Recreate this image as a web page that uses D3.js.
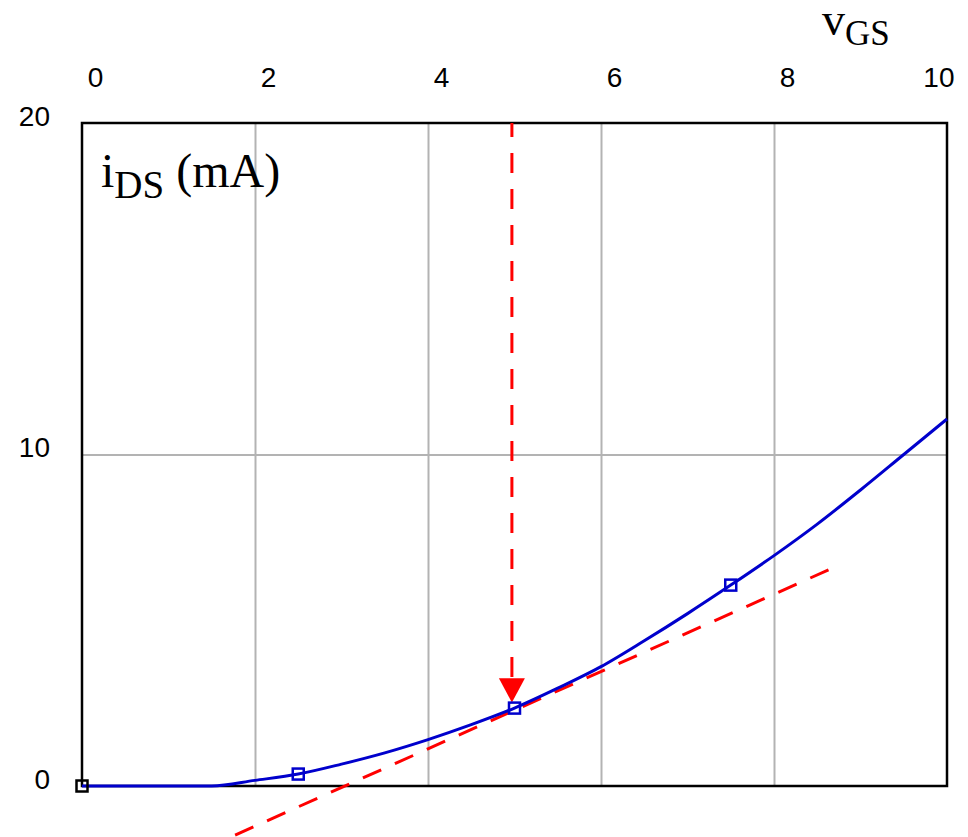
<!DOCTYPE html>
<html>
<head>
<meta charset="utf-8">
<script src="https://cdn.jsdelivr.net/npm/d3@7/dist/d3.min.js"></script>
<style>
  html, body { margin: 0; padding: 0; background: #fff; }
  svg { display: block; }
  .tick-lbl { font-family: "Liberation Sans", Arial, sans-serif; font-size: 28px; fill: #000; }
  .serif { font-family: "Liberation Serif", "Times New Roman", serif; fill: #000; }
</style>
</head>
<body>
<svg id="chart" width="968" height="837"></svg>
<script>
/* iDS vs vGS transfer curve with tangent at the bias point */

const X_TICKS = [0, 2, 4, 6, 8, 10];
const Y_TICKS = [0, 10, 20];

// transfer curve
const VGS = [0, 1.5, 2, 2.5, 3, 3.5, 4, 4.5, 5, 5.5, 6, 6.5, 7, 7.5, 8, 8.5, 9, 9.5, 10];
const IDS = [0, 0, 0.17, 0.36, 0.66, 1.0, 1.4, 1.85, 2.35, 2.95, 3.6, 4.38, 5.2, 6.06, 6.95, 7.9, 8.93, 10.0, 11.07];

// marked points (first one is drawn in black)
const MARK_V = [0, 2.5, 5, 7.5];
const MARK_I = [0, 0.36, 2.35, 6.06];

// tangent line at the bias point (dashed red)
const TAN_V = [1.77, 8.63];
const TAN_I = [-1.48, 6.52];

// vertical arrow pointing at the bias point
const ARROW_V = 4.97;
const ARROW_I = [20, 3.25, 2.52]; // start, head base, tip

const x = d3.scaleLinear().domain([0, 10]).range([82, 947]);
const y = d3.scaleLinear().domain([0, 20]).range([786, 123]);

const svg = d3.select("#chart");

// grid
svg.append("g")
  .attr("transform", `translate(0,${y(0)})`)
  .call(d3.axisBottom(x).tickValues(X_TICKS.slice(1, -1)).tickSize(-(y(0) - y(20))).tickFormat(""))
  .call(g => g.select(".domain").remove())
  .call(g => g.selectAll("line").attr("stroke", "#b3b3b3").attr("stroke-width", 2));

svg.append("g")
  .attr("transform", `translate(${x(0)},0)`)
  .call(d3.axisLeft(y).tickValues([10]).tickSize(-(x(10) - x(0))).tickFormat(""))
  .call(g => g.select(".domain").remove())
  .call(g => g.selectAll("line").attr("stroke", "#b3b3b3").attr("stroke-width", 2));

// frame
svg.append("rect")
  .attr("x", x(0)).attr("y", y(20))
  .attr("width", x(10) - x(0)).attr("height", y(0) - y(20))
  .attr("fill", "none").attr("stroke", "#000").attr("stroke-width", 2.5);

// tick labels
svg.append("g")
  .attr("transform", "translate(0,87)")
  .call(d3.axisTop(x).tickValues(X_TICKS).tickSize(0).tickPadding(0))
  .call(g => g.select(".domain").remove())
  .call(g => g.selectAll("text")
    .attr("class", "tick-lbl")
    .attr("font-size", null).attr("font-family", null)
    .attr("dy", 0)
    .attr("dx", d => d === 10 ? 7 : 13)
    .attr("text-anchor", d => d === 10 ? "end" : "middle"));

svg.append("g")
  .attr("transform", "translate(50,0)")
  .call(d3.axisLeft(y).tickValues(Y_TICKS).tickSize(0).tickPadding(0))
  .call(g => g.select(".domain").remove())
  .call(g => g.selectAll("text")
    .attr("class", "tick-lbl")
    .attr("font-size", null).attr("font-family", null)
    .attr("dy", 2));

// axis titles
const vt = svg.append("text").attr("class", "serif").attr("x", 822).attr("y", 35).attr("font-size", 46);
vt.append("tspan").text("v");
vt.append("tspan").attr("font-size", 35).attr("dy", 10).text("GS");

const it = svg.append("text").attr("class", "serif").attr("x", 101).attr("y", 187).attr("font-size", 48);
it.append("tspan").text("i");
it.append("tspan").attr("font-size", 39).attr("dy", 11).text("DS");
it.append("tspan").attr("dy", -11).text(" (mA)");

// tangent
svg.append("path")
  .datum(d3.range(TAN_V.length))
  .attr("d", d3.line().x(i => x(TAN_V[i])).y(i => y(TAN_I[i])))
  .attr("fill", "none").attr("stroke", "#ff0000").attr("stroke-width", 3)
  .attr("stroke-dasharray", "20,15");

// arrow
svg.append("line")
  .attr("x1", x(ARROW_V)).attr("x2", x(ARROW_V))
  .attr("y1", y(ARROW_I[0])).attr("y2", y(ARROW_I[1]))
  .attr("stroke", "#ff0000").attr("stroke-width", 3)
  .attr("stroke-dasharray", "20,16").attr("stroke-dashoffset", 6);

svg.append("path")
  .attr("d", `M${x(ARROW_V) - 13},${y(ARROW_I[1])} L${x(ARROW_V) + 13},${y(ARROW_I[1])} L${x(ARROW_V)},${y(ARROW_I[2])} Z`)
  .attr("fill", "#ff0000");

// transfer curve
svg.append("path")
  .datum(d3.range(VGS.length))
  .attr("d", d3.line().x(i => x(VGS[i])).y(i => y(IDS[i])).curve(d3.curveMonotoneX))
  .attr("fill", "none").attr("stroke", "#0000cc").attr("stroke-width", 3);

// markers
svg.append("g").selectAll("rect")
  .data(d3.range(MARK_V.length))
  .join("rect")
  .attr("x", i => x(MARK_V[i]) - 5.5)
  .attr("y", i => y(MARK_I[i]) - 5.5)
  .attr("width", 11).attr("height", 11)
  .attr("fill", "none")
  .attr("stroke", i => i === 0 ? "#000" : "#0000cc")
  .attr("stroke-width", 2.5);
</script>
</body>
</html>
